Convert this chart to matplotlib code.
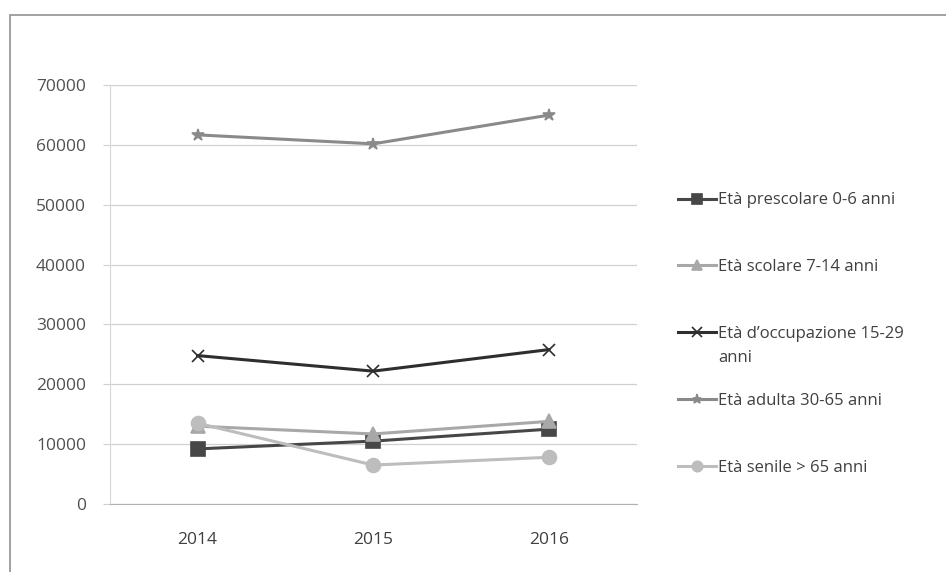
import matplotlib.pyplot as plt
from matplotlib.patches import Rectangle

# data
years = ["2014", "2015", "2016"]
prescolare = [9200, 10500, 12500]
scolare = [13000, 11700, 13800]
occupazione = [24800, 22200, 25800]
adulta = [61700, 60200, 65000]
senile = [13500, 6500, 7800]

labels = [
    "Età prescolare 0-6 anni",
    "Età scolare 7-14 anni",
    "Età d\u2019occupazione 15-29",
    "Età adulta 30-65 anni",
    "Età senile > 65 anni",
]
series = [prescolare, scolare, occupazione, adulta, senile]
colors = ["#474747", "#a8a8a8", "#2e2e2e", "#8a8a8a", "#bdbdbd"]
markers = ["s", "^", "x", "*", "o"]
msizes = [10, 10, 9, 9, 10]

plt.rcParams["font.family"] = ["Open Sans", "DejaVu Sans"]

fig = plt.figure(figsize=(9.46, 5.72), dpi=100)
ax = fig.add_axes([0.116, 0.119, 0.557, 0.732])

# outer frame of the chart area (scan)
fig.patches.append(Rectangle((10 / 946, -0.05), 1.0, 1 - 15 / 572 + 0.05,
                             transform=fig.transFigure, fill=False,
                             edgecolor="#9a9a9a", lw=1.3))

x = list(range(len(years)))
for vals, lab, c, m, ms in zip(series, labels, colors, markers, msizes):
    ax.plot(x, vals, color=c, lw=2.2, marker=m, markersize=ms,
            markeredgecolor=c, markeredgewidth=1.2, label=lab)

ax.set_xlim(-0.5, 2.5)
ax.set_ylim(0, 70000)
ax.set_yticks(range(0, 70001, 10000))
ax.set_xticks(x)
ax.set_xticklabels(years)
ax.yaxis.grid(True, color="#d0d0d0", lw=0.9)
ax.set_axisbelow(True)
for s in ["top", "right"]:
    ax.spines[s].set_visible(False)
ax.spines["left"].set_color("#d8d8d8")
ax.spines["bottom"].set_color("#b0b0b0")
ax.tick_params(axis="y", length=5, color="#d0d0d0", labelsize=12.5,
               labelcolor="#505050", pad=12)
ax.tick_params(axis="x", length=0, labelsize=12.5, labelcolor="#404040", pad=20)

leg = ax.legend(loc="upper left", bbox_to_anchor=(1.065, 0.76), frameon=False,
                fontsize=12, labelcolor="#404040", handlelength=2.3,
                handletextpad=0.15, labelspacing=3.05, borderaxespad=0,
                markerscale=0.75)

# the long label wraps onto a second line in the original
fig.canvas.draw()
bb = leg.get_texts()[2].get_window_extent()
fig.text(bb.x0 / fig.bbox.width, (bb.y0 - 20) / fig.bbox.height, "anni",
         fontsize=12, color="#404040")

fig.savefig("out.png", dpi=100, facecolor="white")
